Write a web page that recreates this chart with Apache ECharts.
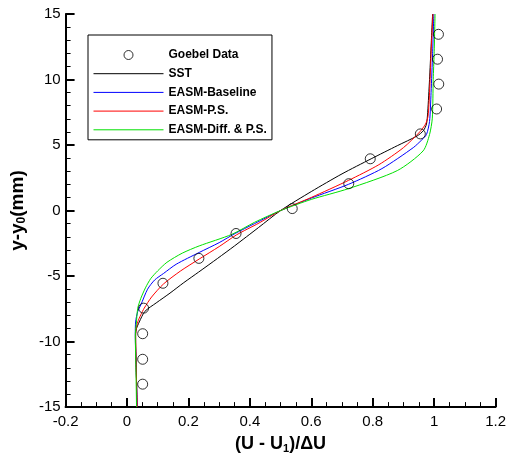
<!DOCTYPE html>
<html>
<head>
<meta charset="utf-8">
<script src="https://cdn.jsdelivr.net/npm/echarts@6/dist/echarts.min.js"></script>
<style>
html,body{margin:0;padding:0;background:#fff;}
#chart{width:509px;height:459px;}
</style>
</head>
<body>
<div id="chart"></div>
<script>
// ---- data ----
const seriesNames = ['Goebel Data', 'SST', 'EASM-Baseline', 'EASM-P.S.', 'EASM-Diff. & P.S.'];

const goebelX = [1.014, 1.011, 1.015, 1.008, 0.955, 0.792, 0.722, 0.538, 0.355, 0.234, 0.117, 0.054, 0.051, 0.051, 0.051];
const goebelY = [13.45, 11.55, 9.65, 7.75, 5.85, 3.95, 2.05, 0.15, -1.75, -3.65, -5.55, -7.45, -9.4, -11.35, -13.25];

const sstX = [0.033, 0.030, 0.028, 0.031, 0.040, 0.058, 0.095, 0.140, 0.185, 0.233, 0.295, 0.350, 0.428, 0.500, 0.600, 0.700, 0.795, 0.880, 0.945, 0.965, 0.975, 0.979, 0.985, 0.990, 0.995];
const sstY = [-15, -12, -9.5, -9.0, -8.5, -7.7, -7.05, -6.3, -5.5, -4.7, -3.65, -2.7, -1.3, 0, 1.45, 2.8, 3.95, 4.95, 5.7, 6.1, 6.6, 7.5, 10, 12.5, 15];

const baseX = [0.033, 0.030, 0.027, 0.028, 0.035, 0.045, 0.067, 0.090, 0.119, 0.160, 0.235, 0.300, 0.352, 0.415, 0.500, 0.600, 0.721, 0.830, 0.932, 0.960, 0.975, 0.985, 0.990, 0.995, 0.999];
const baseY = [-15, -12, -9.5, -8.5, -7.7, -7.2, -6.0, -5.3, -4.8, -4.1, -3.2, -2.45, -1.75, -1.0, 0, 0.95, 2.0, 3.2, 4.8, 5.4, 5.8, 6.8, 9, 12, 15];

const psX = [0.033, 0.030, 0.028, 0.030, 0.035, 0.045, 0.056, 0.080, 0.119, 0.175, 0.235, 0.300, 0.357, 0.430, 0.500, 0.600, 0.721, 0.820, 0.900, 0.953, 0.972, 0.980, 0.985, 0.990, 0.996];
const psY = [-15, -12, -9.5, -9.0, -8.5, -7.95, -7.45, -6.6, -5.6, -4.6, -3.7, -2.75, -1.85, -0.95, 0, 1.0, 2.3, 3.5, 4.8, 6.0, 6.6, 7.2, 9, 12, 15];

const diffX = [0.031, 0.029, 0.027, 0.030, 0.035, 0.045, 0.060, 0.077, 0.100, 0.130, 0.180, 0.235, 0.341, 0.415, 0.500, 0.600, 0.721, 0.880, 0.964, 0.985, 0.994, 0.997, 1.000, 1.003];
const diffY = [-15, -12, -9.5, -8.7, -7.45, -6.7, -5.9, -5.2, -4.6, -3.95, -3.25, -2.7, -1.82, -0.9, 0, 0.85, 1.67, 3.05, 4.55, 5.8, 7.05, 10, 12, 15];

const xTicks = {min: -0.2, max: 1.2, step: 0.2};
const yTicks = {min: -15, max: 15, step: 5};

// ---- build ----
function pairs(xs, ys) { return xs.map((x, i) => [x, ys[i]]); }
const FONT = '"Liberation Sans", Arial, Helvetica, sans-serif';

const chart = echarts.init(document.getElementById('chart'), null, {renderer: 'canvas'});
const lineSeries = (name, xs, ys, color) => ({
  name: name, type: 'line', data: pairs(xs, ys), symbol: 'none', showSymbol: false, smooth: 0.25,
  lineStyle: {color: color, width: 1}, itemStyle: {color: color}, z: 2
});

const legendData = seriesNames.map((n, i) => i === 0
  ? {name: n, itemStyle: {color: 'rgba(0,0,0,0)', borderColor: '#000', borderWidth: 1}}
  : {name: n, itemStyle: {opacity: 0}, lineStyle: {width: 1}});

chart.setOption({
  animation: false,
  backgroundColor: '#fff',
  grid: {left: 56, right: 11, top: 14, bottom: 45, containLabel: false},
  xAxis: {
    type: 'value', min: xTicks.min, max: xTicks.max, interval: xTicks.step,
    name: '(U - U{sub|1})/ΔU', nameLocation: 'middle', nameGap: 26,
    nameTextStyle: {fontFamily: FONT, fontWeight: 'bold', fontSize: 18, color: '#000', lineHeight: 20,
      rich: {sub: {fontFamily: FONT, fontWeight: 'bold', fontSize: 11, lineHeight: 10, verticalAlign: 'bottom', color: '#000'}}},
    axisLine: {show: true, onZero: false, lineStyle: {color: '#000', width: 2}},
    axisTick: {show: true, inside: true, length: 9, lineStyle: {color: '#000', width: 2}},
    minorTick: {show: true, splitNumber: 4, length: 5, lineStyle: {color: '#000', width: 1}},
    axisLabel: {fontFamily: FONT, fontSize: 15, color: '#000', margin: 7,
      formatter: v => String(Math.round(v * 10) / 10)},
    splitLine: {show: false}
  },
  yAxis: {
    type: 'value', min: yTicks.min, max: yTicks.max, interval: yTicks.step,
    name: 'y-y{sub|0}(mm)', nameLocation: 'middle', nameGap: 31, nameRotate: 90,
    nameTextStyle: {fontFamily: FONT, fontWeight: 'bold', fontSize: 19, color: '#000', lineHeight: 20,
      rich: {sub: {fontFamily: FONT, fontWeight: 'bold', fontSize: 12, lineHeight: 10, verticalAlign: 'bottom', color: '#000'}}},
    axisLine: {show: true, onZero: false, lineStyle: {color: '#000', width: 2}},
    axisTick: {show: true, inside: true, length: 9, lineStyle: {color: '#000', width: 2}},
    minorTick: {show: true, splitNumber: 5, length: 5, lineStyle: {color: '#000', width: 1}},
    axisLabel: {fontFamily: FONT, fontSize: 15, color: '#000', margin: 5},
    splitLine: {show: false}
  },
  legend: {
    orient: 'vertical', left: 88, top: 35,
    itemWidth: 70, itemHeight: 9, itemGap: 6.7, itemTextGap: 13,
    padding: [14, 5, 4, 5],
    borderColor: '#000', borderWidth: 1, backgroundColor: '#fff',
    lineStyle: {width: 1},
    textStyle: {fontFamily: FONT, fontSize: 12, fontWeight: 'bold', color: '#000'},
    data: legendData
  },
  series: [
    {
      name: seriesNames[0], type: 'scatter', data: pairs(goebelX, goebelY),
      symbol: 'circle', symbolSize: 10,
      itemStyle: {color: 'rgba(0,0,0,0)', borderColor: '#000', borderWidth: 1}, z: 5
    },
    lineSeries(seriesNames[1], sstX, sstY, '#000000'),
    lineSeries(seriesNames[2], baseX, baseY, '#0000ff'),
    lineSeries(seriesNames[3], psX, psY, '#ff0000'),
    lineSeries(seriesNames[4], diffX, diffY, '#00e000')
  ]
});
</script>
</body>
</html>
